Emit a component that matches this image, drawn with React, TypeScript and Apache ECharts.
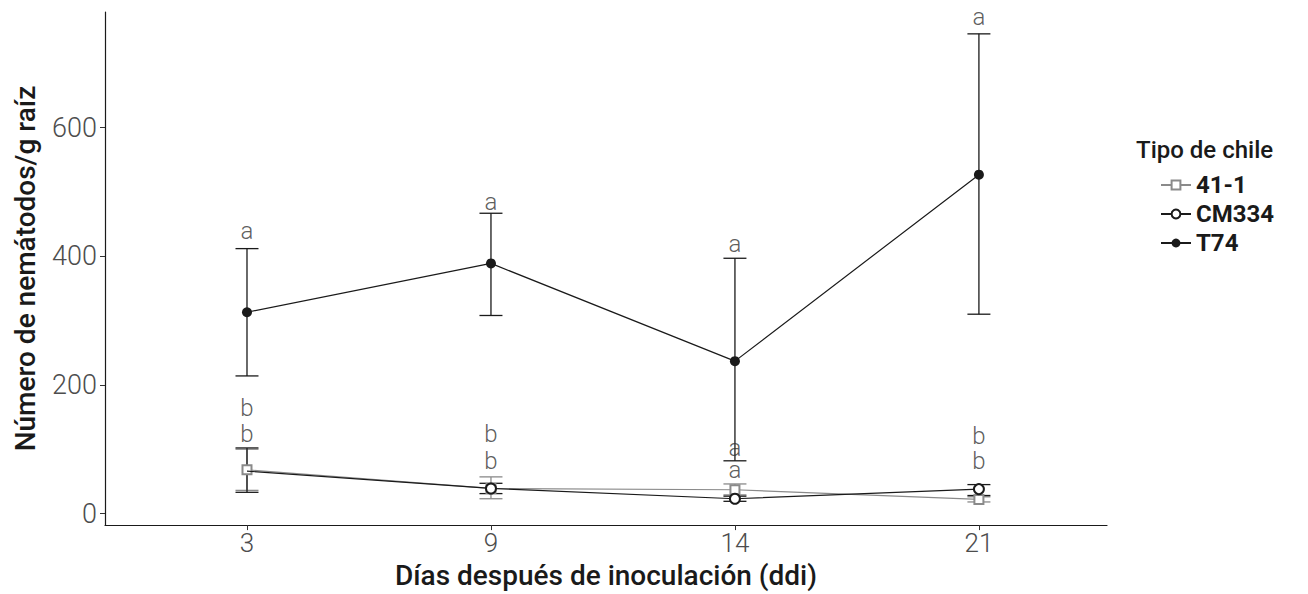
import React, { useEffect, useRef } from 'react';
import * as echarts from 'echarts';

const days = ['3', '9', '14', '21'];
const yTicks = [0, 200, 400, 600];

const t74Mean = [313, 389, 237, 527];
const t74Low = [214, 308, 82, 310];
const t74High = [412, 467, 397, 746];

const cm334Mean = [66, 39, 23, 38];
const cm334Low = [33, 31, 19, 28];
const cm334High = [102, 47, 27, 45];

const l411Mean = [68, 39, 37, 22];
const l411Low = [36, 23, 29, 18];
const l411High = [100, 57, 46, 26];

const letterT74 = ['a', 'a', 'a', 'a'];
const letterT74Y = [439, 485, 419, 772];
const letterUpper = ['b', 'b', 'a', 'b'];
const letterUpperY = [164, 124, 102, 121];
const letterLower = ['b', 'b', 'a', 'b'];
const letterLowerY = [124, 82, 68, 81];

const BLACK = '#1a1a1a';
const GREY = '#8a8a8a';
const FONT = 'Roboto';

function errorSeries(name: string, low: number[], high: number[], color: string, z: number) {
  return {
    type: 'custom',
    name,
    z,
    silent: true,
    data: low.map((l, i) => [i + 1, l, high[i]]),
    encode: { x: 0, y: [1, 2] },
    renderItem: (_params: any, api: any) => {
      const x = api.value(0);
      const pLo = api.coord([x, api.value(1)]);
      const pHi = api.coord([x, api.value(2)]);
      const w = 11.5;
      const style = { stroke: color, lineWidth: 1.3 };
      return {
        type: 'group',
        children: [
          { type: 'line', shape: { x1: pLo[0], y1: pLo[1], x2: pHi[0], y2: pHi[1] }, style },
          { type: 'line', shape: { x1: pLo[0] - w, y1: pLo[1], x2: pLo[0] + w, y2: pLo[1] }, style },
          { type: 'line', shape: { x1: pHi[0] - w, y1: pHi[1], x2: pHi[0] + w, y2: pHi[1] }, style },
        ],
      };
    },
  };
}

function letterSeries(name: string, letters: string[], ys: number[]) {
  return {
    type: 'scatter',
    name,
    silent: true,
    symbolSize: 1,
    itemStyle: { color: 'rgba(0,0,0,0)' },
    z: 10,
    data: ys.map((y, i) => ({ value: [i + 1, y], label: { formatter: letters[i] } })),
    label: {
      show: true,
      position: 'inside',
      color: '#333333',
      fontFamily: FONT,
      fontWeight: 300,
      fontSize: 24,
      lineHeight: 22,
    },
  };
}

export default function App() {
  const ref = useRef<HTMLDivElement>(null);
  useEffect(() => {
    if (!ref.current) return;
    const chart = echarts.init(ref.current, undefined, { renderer: 'svg' });
    const option: any = {
      animation: false,
      backgroundColor: '#ffffff',
      title: {
        text: 'Tipo de chile',
        left: 1131,
        top: 133,
        textStyle: { fontFamily: FONT, fontWeight: 500, fontSize: 24, color: BLACK },
      },
      legend: {
        orient: 'vertical',
        left: 1155,
        top: 168,
        itemWidth: 30,
        itemHeight: 11,
        itemGap: 5,
        data: ['41-1', 'CM334', 'T74'],
        textStyle: { fontFamily: FONT, fontWeight: 'bold', fontSize: 24, color: BLACK },
      },
      grid: { left: 105, right: 201, top: 12, bottom: 67, containLabel: false },
      xAxis: {
        type: 'value',
        min: 0.418,
        max: 4.525,
        name: 'Días después de inoculación (ddi)',
        nameLocation: 'middle',
        nameGap: 35,
        nameTextStyle: { fontFamily: FONT, fontWeight: 500, fontSize: 28, color: BLACK },
        axisLine: { onZero: false, lineStyle: { color: BLACK, width: 1.2 } },
        axisTick: { show: true, length: 5, customValues: [1, 2, 3, 4], lineStyle: { color: '#333' } },
        axisLabel: {
          customValues: [1, 2, 3, 4],
          formatter: (v: number) => days[Math.round(v) - 1] ?? '',
          margin: 5,
          fontFamily: FONT,
          fontWeight: 300,
          fontSize: 26,
          color: '#4d4d4d',
        },
        splitLine: { show: false },
      },
      yAxis: {
        type: 'value',
        min: -18,
        max: 780,
        name: 'Número de nemátodos/g raíz',
        nameLocation: 'middle',
        nameGap: 66,
        nameRotate: 90,
        nameTextStyle: { fontFamily: FONT, fontWeight: 500, fontSize: 28, color: BLACK },
        axisLine: { show: true, onZero: false, lineStyle: { color: BLACK, width: 1.2 } },
        axisTick: { show: true, length: 5, customValues: yTicks, lineStyle: { color: '#333' } },
        axisLabel: {
          customValues: yTicks,
          margin: 8,
          fontFamily: FONT,
          fontWeight: 300,
          fontSize: 27,
          color: '#4d4d4d',
        },
        splitLine: { show: false },
      },
      series: [
        errorSeries('err41', l411Low, l411High, GREY, 2),
        errorSeries('errCM', cm334Low, cm334High, BLACK, 2),
        errorSeries('errT74', t74Low, t74High, BLACK, 2),
        {
          type: 'line',
          name: '41-1',
          z: 3,
          data: l411Mean.map((v, i) => [i + 1, v]),
          symbol: 'emptyRect',
          symbolSize: 9,
          lineStyle: { color: GREY, width: 1.2 },
          itemStyle: { color: GREY, borderWidth: 1.2 },
        },
        {
          type: 'line',
          name: 'CM334',
          z: 4,
          data: cm334Mean.map((v, i) => (i === 0 ? { value: [i + 1, v], symbol: 'none' } : [i + 1, v])),
          symbol: 'emptyCircle',
          symbolSize: 10,
          lineStyle: { color: BLACK, width: 1.2 },
          itemStyle: { color: BLACK, borderWidth: 1.2 },
        },
        {
          type: 'line',
          name: 'T74',
          z: 5,
          data: t74Mean.map((v, i) => [i + 1, v]),
          symbol: 'circle',
          symbolSize: 10,
          lineStyle: { color: BLACK, width: 1.2 },
          itemStyle: { color: BLACK },
        },
        letterSeries('lt74', letterT74, letterT74Y),
        letterSeries('lup', letterUpper, letterUpperY),
        letterSeries('llo', letterLower, letterLowerY),
      ],
    };
    chart.setOption(option);
    return () => chart.dispose();
  }, []);
  return (
    <div
      ref={ref}
      style={{ position: 'fixed', left: 0, top: 0, width: 1308, height: 594, background: '#fff' }}
    />
  );
}
